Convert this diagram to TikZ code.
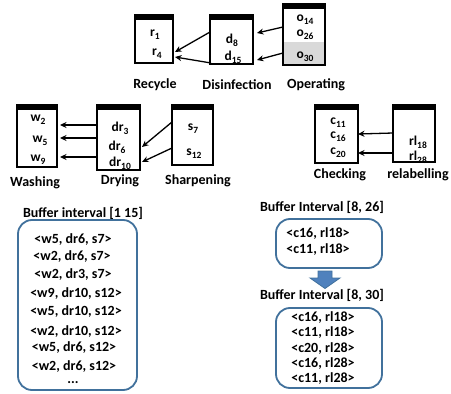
\documentclass[tikz,border=0pt]{standalone}
\usepackage{fontspec}
\setmainfont{Carlito}
\usetikzlibrary{arrows.meta,calc}
\definecolor{bufblue}{HTML}{41719C}
\definecolor{arrfill}{HTML}{4F81BD}
\definecolor{greyfill}{HTML}{D9D9D9}
\newcommand{\sbs}[1]{\raisebox{-0.45ex}{\fontsize{9.5}{9.5}\selectfont #1}}
\begin{document}
\begin{tikzpicture}[x=1pt,y=-1pt,
  font=\bfseries\fontsize{14}{16}\selectfont,
  procbox/.style={draw, line width=1.2pt, inner sep=0pt},
  item/.style={inner sep=0pt, anchor=center, font=\bfseries\fontsize{13.5}{15}\selectfont},
  lbl/.style={inner sep=0pt, font=\bfseries\fontsize{14}{16}\selectfont},
  arr/.style={line width=1.3pt, -{Stealth[length=6.5pt,width=6pt]}},
  bufbox/.style={draw=bufblue, line width=1.8pt, rounded corners=14pt, inner sep=0pt},
  buftxt/.style={inner sep=0pt},
  buftitle/.style={inner sep=0pt}]
\useasboundingbox (0,0) rectangle (451,394);

% ---------- top row ----------
\node[procbox, minimum width=38pt, minimum height=48pt] (rec) at (154,39) {};
\node[procbox, minimum width=43pt, minimum height=49pt] (dis) at (231.5,39.5) {};
\fill[greyfill] (283,42) rectangle (325,65);
\node[procbox, minimum width=42pt, minimum height=61pt] (ope) at (304,34.5) {};
\fill (rec.north west) rectangle ($(rec.north east)+(0,6)$);
\fill (dis.north west) rectangle ($(dis.north east)+(0,6)$);
\fill (ope.north west) rectangle ($(ope.north east)+(0,6)$);

\node[item] (r1) at (155,35) {r\sbs{1}};
\node[item] (r4) at (157,54) {r\sbs{4}};
\node[item] (d8) at (232,40) {d\sbs{8}};
\node[item] (d15) at (233,57) {d\sbs{15}};
\node[item] (o14) at (305,20) {o\sbs{14}};
\node[item] (o26) at (305,35) {o\sbs{26}};
\node[item] (o30) at (305,57) {o\sbs{30}};

\node[lbl] (lrec) at (155,85) {Recycle};
\node[lbl] (ldis) at (237,85) {Disinfection};
\node[lbl] (lope) at (316,85) {Operating};

\coordinate (a1s) at (210,32); \coordinate (a1e) at (175,52);
\coordinate (a2s) at (211,63); \coordinate (a2e) at (175,57);
\coordinate (a3s) at (283,27); \coordinate (a3e) at (257,33);
\coordinate (a4s) at (283,53); \coordinate (a4e) at (257,60);
\draw[arr] (a1s) -- (a1e);
\draw[arr] (a2s) -- (a2e);
\draw[arr] (a3s) -- (a3e);
\draw[arr] (a4s) -- (a4e);

% ---------- second row ----------
\node[procbox, minimum width=40pt, minimum height=62pt] (was) at (37,136) {};
\node[procbox, minimum width=43pt, minimum height=65pt] (dry) at (118.5,137.5) {};
\node[procbox, minimum width=41pt, minimum height=60pt] (sha) at (192.5,135) {};
\fill (was.north west) rectangle ($(was.north east)+(0,6)$);
\fill (dry.north west) rectangle ($(dry.north east)+(0,6)$);
\fill (sha.north west) rectangle ($(sha.north east)+(0,6)$);

\node[item] (w2) at (38,120) {w\sbs{2}};
\node[item] (w5) at (40,141) {w\sbs{5}};
\node[item] (w9) at (38,160) {w\sbs{9}};
\node[item] (dr3) at (120,128) {dr\sbs{3}};
\node[item] (dr6) at (117,147) {dr\sbs{6}};
\node[item] (dr10) at (120,163) {dr\sbs{10}};
\node[item] (s7) at (193,129) {s\sbs{7}};
\node[item] (s12) at (194,154) {s\sbs{12}};

\node[lbl] (lwas) at (35,183) {Washing};
\node[lbl] (ldry) at (120,181) {Drying};
\node[lbl] (lsha) at (198,181) {Sharpening};

\coordinate (b1s) at (97,125); \coordinate (b1e) at (60,125);
\coordinate (b2s) at (97,138); \coordinate (b2e) at (60,138);
\coordinate (b3s) at (97,157); \coordinate (b3e) at (60,157);
\coordinate (b4s) at (172,122); \coordinate (b4e) at (142,147);
\coordinate (b5s) at (172,148); \coordinate (b5e) at (142,162);
\draw[arr] (b1s) -- (b1e);
\draw[arr] (b2s) -- (b2e);
\draw[arr] (b3s) -- (b3e);
\draw[arr] (b4s) -- (b4e);
\draw[arr] (b5s) -- (b5e);

% ---------- right row ----------
\node[procbox, minimum width=43pt, minimum height=58pt] (che) at (336.5,134) {};
\node[procbox, minimum width=42pt, minimum height=57pt] (rel) at (414,133.5) {};
\fill (che.north west) rectangle ($(che.north east)+(0,6)$);
\fill (rel.north west) rectangle ($(rel.north east)+(0,6)$);

\node[item] (c11) at (338,123) {c\sbs{11}};
\node[item] (c16) at (338,137) {c\sbs{16}};
\node[item] (c20) at (338,153) {c\sbs{20}};
\node[item] (rl18) at (418,142) {rl\sbs{18}};
\node[item] (rl28) at (418,157) {rl\sbs{28}};

\node[lbl] (lche) at (340,175) {Checking};
\node[lbl] (lrel) at (418,175) {relabelling};

\coordinate (c1s) at (393,133); \coordinate (c1e) at (358,134);
\coordinate (c2s) at (393,153); \coordinate (c2e) at (358,153);
\draw[arr] (c1s) -- (c1e);
\draw[arr] (c2s) -- (c2e);

% ---------- buffer left ----------
\node[buftitle] (t1) at (83,213) {Buffer interval [1 15]};
\node[bufbox, minimum width=119pt, minimum height=170pt] (buf1) at (77.5,305) {};
\node[buftxt] at (73,240) {<w5, dr6, s7>};
\node[buftxt] at (72,257) {<w2, dr6, s7>};
\node[buftxt] at (73,275) {<w2, dr3, s7>};
\node[buftxt] at (76,294) {<w9, dr10, s12>};
\node[buftxt] at (76,312) {<w5, dr10, s12>};
\node[buftxt] at (76,332) {<w2, dr10, s12>};
\node[buftxt] at (74,348) {<w5, dr6, s12>};
\node[buftxt] at (74,367) {<w2, dr6, s12>};
\node[buftxt] at (73,383) {...};

% ---------- buffer right ----------
\node[buftitle] (t2) at (322,207) {Buffer Interval [8, 26]};
\node[bufbox, minimum width=106pt, minimum height=49pt] (buf2) at (329,243.5) {};
\node[buftxt] at (318,234) {<c16, rl18>};
\node[buftxt] at (318,250) {<c11, rl18>};

\draw[draw=bufblue, fill=arrfill, line width=0.8pt]
  (318,271) -- (332,271) -- (332,278) -- (340,278) -- (325,288.5) -- (310,278) -- (318,278) -- cycle;

\node[buftitle] (t3) at (322,295) {Buffer Interval [8, 30]};
\node[bufbox, minimum width=106pt, minimum height=80pt] (buf3) at (329,348) {};
\node[buftxt] at (323,318) {<c16, rl18>};
\node[buftxt] at (323,333) {<c11, rl18>};
\node[buftxt] at (323,349) {<c20, rl28>};
\node[buftxt] at (323,364) {<c16, rl28>};
\node[buftxt] at (323,379) {<c11, rl28>};
\end{tikzpicture}
\end{document}
